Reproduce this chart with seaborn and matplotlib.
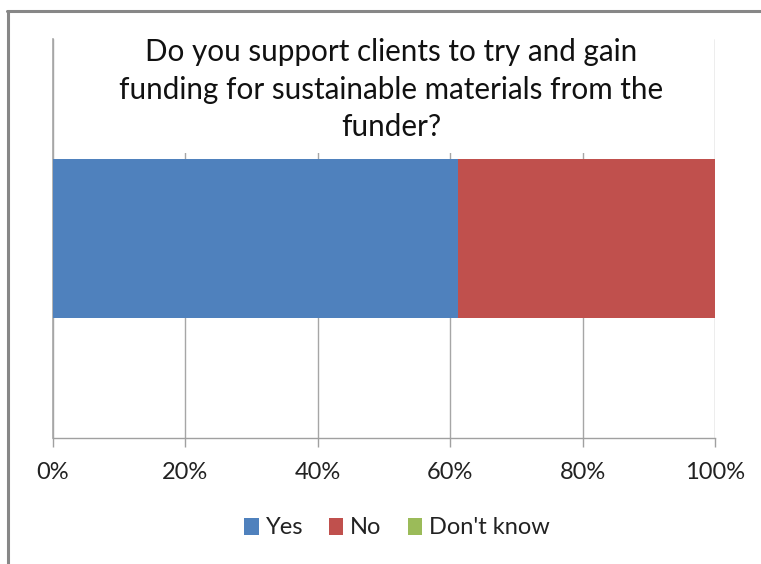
import matplotlib
matplotlib.use("Agg")
import matplotlib.pyplot as plt
from matplotlib.lines import Line2D
from matplotlib.patches import Patch, Rectangle
from matplotlib.ticker import FuncFormatter
import seaborn as sns
import pandas as pd

# Survey responses (percent of respondents)
question = "Do you support clients to try and gain\nfunding for sustainable materials from the\nfunder?"
series = ["Yes", "No", "Don't know"]
values = [61.2, 38.8, 0.0]
colors = ["#4F81BD", "#C0504D", "#9BBB59"]
ticks = [0, 20, 40, 60, 80, 100]

sns.set_theme(style="white")
plt.rcParams["font.family"] = ["Lato", "DejaVu Sans"]

W, H = 761, 564
fig = plt.figure(figsize=(W / 100, H / 100), dpi=100)
ax = fig.add_axes([53 / W, 1 - 438 / H, (715 - 53) / W, (438 - 39) / H])

# Stacked horizontal bar: draw cumulative totals from the back to the front
df = pd.DataFrame({"series": series, "value": values})
df["cum"] = df["value"].cumsum()
df["row"] = ""
for i in reversed(range(len(df))):
    sub = df.iloc[[i]]
    sns.barplot(data=sub, x="cum", y="row", orient="h", color=colors[i],
                width=0.4, saturation=1, ax=ax, linewidth=0, zorder=3)

ax.set_xlim(0, 100)
ax.set_ylim(0.5, -0.5)
ax.set_xticks(ticks)
ax.xaxis.set_major_formatter(FuncFormatter(lambda v, p: f"{v:.0f}%"))
ax.set_yticks([])
ax.set_xlabel("")
ax.set_ylabel("")

grid_c = "#A6A6A6"
ax.grid(axis="x", color=grid_c, linewidth=1.0, zorder=0)
ax.set_axisbelow(True)
for s in ["top", "right"]:
    ax.spines[s].set_visible(False)
ax.spines["left"].set_color(grid_c)
ax.spines["left"].set_linewidth(1.2)
ax.spines["bottom"].set_color("#A0A0A0")
ax.spines["bottom"].set_linewidth(1.0)
ax.tick_params(axis="x", direction="out", length=6.5, width=1.0, color="#A0A0A0",
               labelsize=17, labelcolor="#222222", pad=10.5, bottom=True)

# Title sits on a white box that hides the inner gridlines
fig.add_artist(Rectangle((110 / W, 1 - 153 / H), (672 - 110) / W, (153 - 28) / H,
                         transform=fig.transFigure, facecolor="white",
                         edgecolor="none", zorder=2))
fig.text(391 / W, 1 - 89.5 / H, question, ha="center", va="center",
         fontsize=21.3, color="#111111", linespacing=1.42, zorder=3)

handles = [Patch(facecolor=c, edgecolor="none") for c in colors]
fig.legend(handles, series, loc="center", bbox_to_anchor=(397 / W, 1 - 528 / H),
           ncol=3, frameon=False, fontsize=17, handlelength=0.6, handleheight=0.75,
           handletextpad=0.3, columnspacing=1.1, labelcolor="#222222")

# Chart-area border (top and left edges)
border = "#878787"
fig.add_artist(Line2D([7 / W, 1], [1 - 11 / H, 1 - 11 / H], color=border, linewidth=2.2,
                      transform=fig.transFigure))
fig.add_artist(Line2D([8 / W, 8 / W], [0, 1 - 11 / H], color=border, linewidth=2.2,
                      transform=fig.transFigure))

fig.savefig("out.png", dpi=100, facecolor="white")
